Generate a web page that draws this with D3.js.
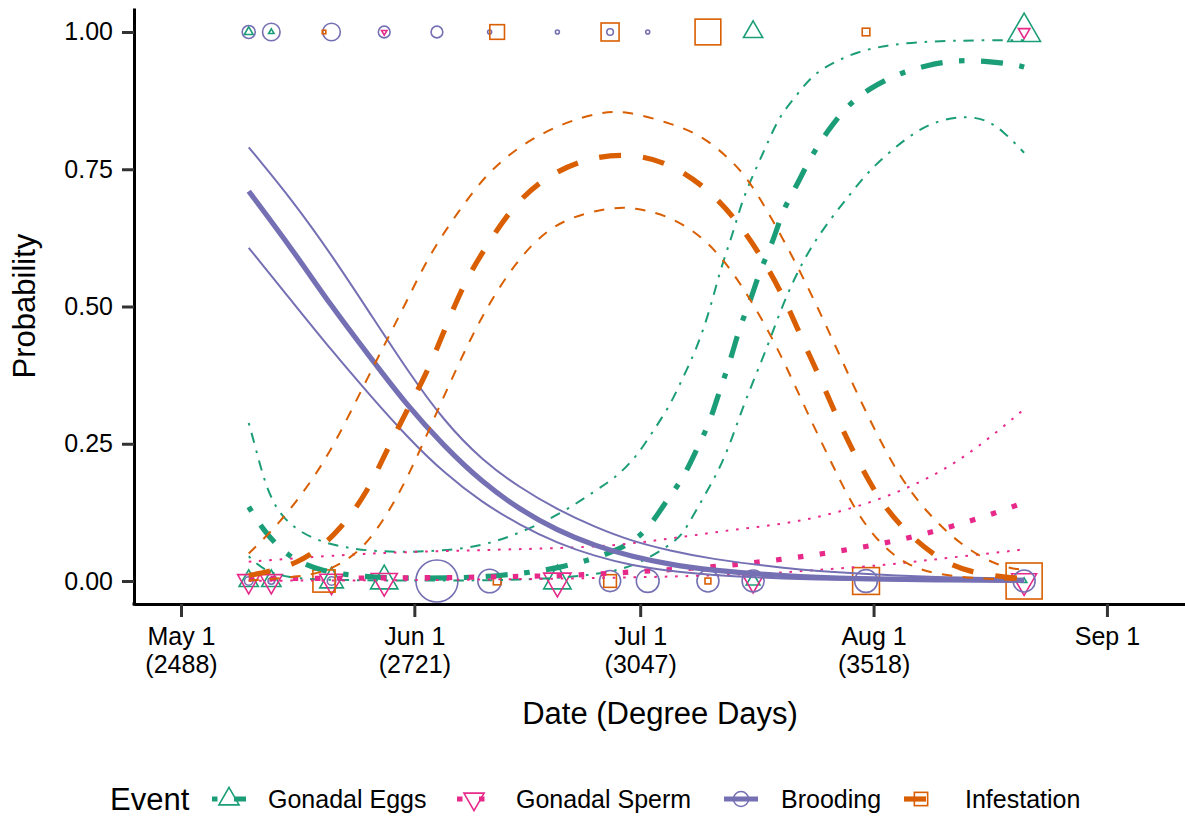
<!DOCTYPE html>
<html><head><meta charset="utf-8">
<script src="https://cdn.jsdelivr.net/npm/d3@7"></script>
<style>
body{margin:0;background:#fff}
text{font-family:"Liberation Sans",Arial,Helvetica,sans-serif;fill:#000}
</style>
</head><body><svg id="chart" width="1185" height="819"></svg>
<script>
// ---------- DATA (days since May 1) ----------
const tickDays = [0, 31, 61, 92, 123];
const tickLine1 = ["May 1", "Jun 1", "Jul 1", "Aug 1", "Sep 1"];
const tickLine2 = ["(2488)", "(2721)", "(3047)", "(3518)", ""];
const yTicks = [0, 0.25, 0.5, 0.75, 1];
const yTickLabels = ["0.00", "0.25", "0.50", "0.75", "1.00"];
const eventNames = ["Gonadal Eggs", "Gonadal Sperm", "Brooding", "Infestation"];

// observations: sampling day, count with event present (1) and absent (0)
const eggsDays = [9, 12, 20, 27, 50, 76, 112];
const eggsYes  = [2, 1, 0, 0, 0, 7, 18];
const eggsNo   = [7, 7, 10, 13, 13, 4, 1];
const spermDays = [9, 12, 20, 27, 50, 76, 112];
const spermYes  = [0, 0, 0, 1, 0, 0, 3];
const spermNo   = [9, 9, 10, 12, 13, 8, 11];
const broodDays = [9, 12, 20, 27, 34, 41, 50, 57, 62, 70, 76, 91, 112];
const broodYes  = [6, 10, 10, 5, 5, 1, 1, 2, 1, 0, 0, 0, 0];
const broodNo   = [3, 2, 3, 0, 50, 17, 0, 14, 16, 15, 15, 16, 15];
const infDays = [19, 42, 57, 70, 91, 112];
const infYes  = [1, 9, 13, 25, 3, 0];
const infNo   = [19, 3, 7, 2, 27, 47];

// fitted probability curves and 95% bands: [day, probability]
const eggsFit = [[9,0.135],[10.9,0.093],[14.1,0.044],[18.5,0.018],[23.8,0.008],[29.1,0.005],[35.7,0.005],[42.4,0.009],[50.3,0.022],[58.3,0.055],[61.9,0.09],[64.5,0.147],[66.7,0.186],[68.5,0.24],[70.3,0.29],[71.6,0.35],[72.9,0.397],[74.2,0.463],[75.6,0.508],[76.9,0.566],[78.5,0.612],[80,0.678],[81.8,0.72],[83.5,0.769],[85.8,0.818],[88.4,0.865],[91.5,0.898],[95.1,0.923],[99.1,0.94],[103.2,0.949],[107.2,0.947],[111,0.94],[112,0.936]];
const eggsHi = [[9,0.288],[10.1,0.233],[11.4,0.166],[13.5,0.111],[17.5,0.075],[22,0.06],[26.4,0.053],[33.1,0.053],[39.7,0.062],[45,0.087],[50.7,0.124],[55.2,0.166],[57.9,0.19],[60.6,0.228],[62.7,0.273],[64.9,0.318],[66.7,0.371],[68.5,0.423],[70.3,0.495],[71.6,0.566],[73.3,0.632],[74.6,0.696],[76.5,0.755],[77.8,0.794],[79.5,0.847],[81.8,0.885],[83.9,0.922],[86.6,0.944],[89.8,0.964],[93.8,0.976],[98.1,0.982],[102.5,0.984],[107,0.985],[112,0.985]];
const eggsLo = [[9,0.045],[10.9,0.02],[14.1,0.006],[18.5,0.002],[29.1,0.0005],[42.4,0.001],[50.3,0.005],[57,0.015],[61,0.032],[65.9,0.073],[67.2,0.098],[69.3,0.15],[71.2,0.195],[72.9,0.248],[74.2,0.3],[76,0.364],[77.8,0.423],[79.5,0.488],[81.3,0.546],[83.5,0.605],[86.2,0.658],[88.8,0.703],[91.5,0.749],[94.6,0.787],[97.7,0.82],[100.8,0.84],[104.4,0.847],[107,0.84],[109.2,0.82],[112,0.78]];
const spermFit = [[9,0.004],[15.8,0.005],[22.4,0.005],[29.1,0.006],[35.7,0.006],[42.4,0.008],[48.3,0.009],[54.6,0.012],[60.6,0.017],[66.5,0.022],[72.5,0.028],[78.5,0.037],[84.5,0.048],[90.4,0.061],[96.4,0.077],[102.1,0.098],[107.8,0.122],[110.8,0.137],[112,0.143]];
const spermHi = [[9,0.035],[15.8,0.042],[24.2,0.05],[33.1,0.054],[42,0.057],[50.7,0.06],[57,0.064],[62.7,0.073],[68.5,0.084],[74.2,0.095],[80.2,0.104],[85.9,0.12],[91.9,0.144],[97.2,0.173],[102.5,0.211],[107.4,0.26],[112,0.313]];
const spermLo = [[9,0.0005],[22.4,0.001],[35.7,0.002],[49,0.004],[62.3,0.007],[75.6,0.012],[81.5,0.017],[87.5,0.023],[93.5,0.029],[99.2,0.038],[105.1,0.047],[111.2,0.056],[112,0.058]];
const broodFit = [[9,0.71],[15,0.6],[20,0.5],[25,0.41],[30,0.32],[35,0.245],[40,0.18],[45,0.13],[50,0.092],[55,0.064],[60,0.044],[65,0.03],[70,0.02],[80,0.009],[90,0.004],[100,0.002],[112,0.001]];
const broodHi = [[9,0.79],[15,0.69],[20,0.594],[25,0.49],[30,0.385],[35,0.29],[40,0.22],[45,0.17],[50,0.13],[55,0.098],[60,0.072],[65,0.055],[70,0.041],[80,0.023],[90,0.013],[100,0.007],[112,0.004]];
const broodLo = [[9,0.607],[15,0.505],[20,0.42],[25,0.34],[30,0.263],[35,0.196],[40,0.143],[45,0.102],[50,0.069],[55,0.045],[60,0.028],[65,0.018],[70,0.011],[80,0.004],[90,0.0015],[100,0.0006],[112,0.0002]];
const infFit = [[9,0.01],[12,0.018],[15.4,0.033],[18,0.055],[21.1,0.093],[24.7,0.16],[27.4,0.24],[30,0.31],[32.7,0.38],[34.8,0.45],[37.5,0.54],[40.1,0.6],[43.7,0.676],[47.7,0.73],[53,0.767],[58.7,0.78],[64.5,0.765],[69.9,0.716],[73.8,0.658],[77.3,0.587],[80.2,0.514],[82.6,0.437],[85.1,0.364],[87.5,0.286],[90.2,0.211],[93.1,0.14],[96.8,0.082],[101.7,0.029],[106.5,0.011],[112,0.004]];
const infHi = [[9,0.05],[13.1,0.105],[17.5,0.184],[20.7,0.257],[24.2,0.354],[27.4,0.44],[30,0.51],[33.1,0.597],[36.7,0.67],[40.6,0.743],[45.4,0.797],[50.7,0.834],[55.6,0.854],[59.2,0.856],[64.5,0.836],[68.9,0.814],[72.5,0.774],[75.2,0.736],[78.6,0.658],[82.2,0.566],[85.8,0.463],[89.2,0.359],[92.4,0.268],[95.5,0.189],[99.1,0.124],[103.5,0.066],[108.4,0.027],[112,0.02]];
const infLo = [[9,0.001],[14.5,0.006],[19.4,0.015],[24.2,0.056],[27.8,0.13],[30.4,0.197],[33.1,0.28],[35.7,0.36],[38.4,0.44],[41.4,0.517],[45,0.59],[49,0.645],[53.4,0.67],[57.9,0.681],[60,0.68],[64.5,0.667],[68.9,0.632],[72.5,0.579],[75.6,0.514],[78.6,0.442],[81.3,0.364],[83.9,0.286],[86.6,0.21],[89.2,0.137],[92.4,0.073],[96.4,0.027],[101.7,0.007],[112,0.001]];

// ---------- STYLE ----------
const colors = ["#1B9E77", "#E7298A", "#7570B3", "#D95F02"];
const shapes = ["up", "down", "circle", "square"];
const dashUnits = [[1,3,4,3], [1,3], null, [4,4]];
const thinW = 2, thickW = 5.2, thinU = 2.6, thickU = 5.5;

const svg = d3.select("#chart");
const x = d3.scaleLinear().domain([-6.24, 133.37]).range([134, 1185]);
const y = d3.scaleLinear().domain([-0.0437, 1.0437]).range([605, 8]);
const r = d3.scaleSqrt().domain([1, 50]).range([2, 21]);

function shapePath(shape, R) {
  if (shape === "circle") return d3.path().toString();
  return null;
}
function drawShape(g, shape, cx, cy, R, color) {
  if (shape === "circle") {
    g.append("circle").attr("cx", cx).attr("cy", cy).attr("r", R)
      .attr("fill", "none").attr("stroke", color).attr("stroke-width", 1.6);
  } else if (shape === "square") {
    const h = 0.886 * R;
    g.append("rect").attr("x", cx - h).attr("y", cy - h).attr("width", 2 * h).attr("height", 2 * h)
      .attr("fill", "none").attr("stroke", color).attr("stroke-width", 1.6);
  } else {
    const t0 = 1.555 * R, t1 = 1.347 * R, t2 = 0.778 * R;
    const s = shape === "up" ? 1 : -1;
    const pts = [[cx, cy - s * t0], [cx + t1, cy + s * t2], [cx - t1, cy + s * t2]];
    g.append("path").attr("d", "M" + pts.map(p => p.join(",")).join("L") + "Z")
      .attr("fill", "none").attr("stroke", color).attr("stroke-width", 1.6).attr("stroke-linejoin", "miter");
  }
}

// ---------- AXES ----------
const xAxis = d3.axisBottom(x).tickValues(tickDays).tickSize(13).tickSizeOuter(0).tickFormat("");
const gx = svg.append("g").attr("transform", "translate(0,604)").call(xAxis);
gx.select(".domain").attr("stroke", "#000").attr("stroke-width", 3);
gx.selectAll(".tick line").attr("stroke", "#333").attr("stroke-width", 3);
gx.selectAll(".tick").each(function(d, i) {
  const t = d3.select(this).append("text").attr("text-anchor", "middle").attr("font-size", 25).attr("y", 41);
  t.append("tspan").attr("x", 0).text(tickLine1[i]);
  t.append("tspan").attr("x", 0).attr("dy", 28).text(tickLine2[i]);
});

const yAxis = d3.axisLeft(y).tickValues(yTicks).tickSize(12).tickSizeOuter(0).tickPadding(9)
  .tickFormat((d, i) => yTickLabels[i]);
const gy = svg.append("g").attr("transform", "translate(134,0)").call(yAxis);
gy.select(".domain").attr("stroke", "#000").attr("stroke-width", 3);
gy.selectAll(".tick line").attr("stroke", "#333").attr("stroke-width", 3);
gy.selectAll(".tick text").attr("font-size", 25).attr("fill", "#000").attr("font-family", null);
gx.attr("font-family", null); gy.attr("font-family", null);
svg.append("rect").attr("x", 132.5).attr("y", 602.5).attr("width", 3).attr("height", 3).attr("fill", "#000");

svg.append("text").attr("x", 660).attr("y", 724).attr("text-anchor", "middle").attr("font-size", 31)
  .text("Date (Degree Days)");
svg.append("text").attr("transform", "translate(35,306) rotate(-90)").attr("text-anchor", "middle")
  .attr("font-size", 31).text("Probability");

// ---------- POINTS ----------
const obs = [
  [eggsDays, eggsYes, eggsNo], [spermDays, spermYes, spermNo],
  [broodDays, broodYes, broodNo], [infDays, infYes, infNo]
];
const gp = svg.append("g");
obs.forEach((o, k) => {
  o[0].forEach((day, j) => {
    if (o[1][j] > 0) drawShape(gp, shapes[k], x(day), y(1), r(o[1][j]), colors[k]);
    if (o[2][j] > 0) drawShape(gp, shapes[k], x(day), y(0), r(o[2][j]), colors[k]);
  });
});

// ---------- LINES ----------
const curves = [[eggsFit, eggsLo, eggsHi], [spermFit, spermLo, spermHi], [broodFit, broodLo, broodHi], [infFit, infLo, infHi]];
const line = d3.line().x(d => x(d[0])).y(d => y(d[1])).curve(d3.curveBasis);
const gl = svg.append("g");
curves.forEach((c, k) => {
  c.forEach((data, m) => {
    const w = m === 0 ? thickW : thinW, u = m === 0 ? thickU : thinU;
    gl.append("path").attr("d", line(data)).attr("fill", "none").attr("stroke", colors[k])
      .attr("stroke-width", w).attr("stroke-linecap", "butt")
      .attr("stroke-dasharray", dashUnits[k] ? dashUnits[k].map(v => v * u).join(",") : null);
  });
});

// ---------- LEGEND ----------
const lg = svg.append("g");
lg.append("text").attr("x", 110).attr("y", 810).attr("font-size", 31).text("Event");
const keyX = [229, 474, 741, 921];
const labX = [268, 516, 781, 965];
eventNames.forEach((name, k) => {
  lg.append("line").attr("x1", keyX[k] - 17).attr("x2", keyX[k] + 17).attr("y1", 799).attr("y2", 799)
    .attr("stroke", colors[k]).attr("stroke-width", thickW)
    .attr("stroke-dasharray", dashUnits[k] ? dashUnits[k].map(v => v * thickU).join(",") : null);
  drawShape(lg, shapes[k], keyX[k], 799, 7.5, colors[k]);
  lg.append("text").attr("x", labX[k]).attr("y", 808).attr("font-size", 25).text(name);
});
</script>
</body></html>
